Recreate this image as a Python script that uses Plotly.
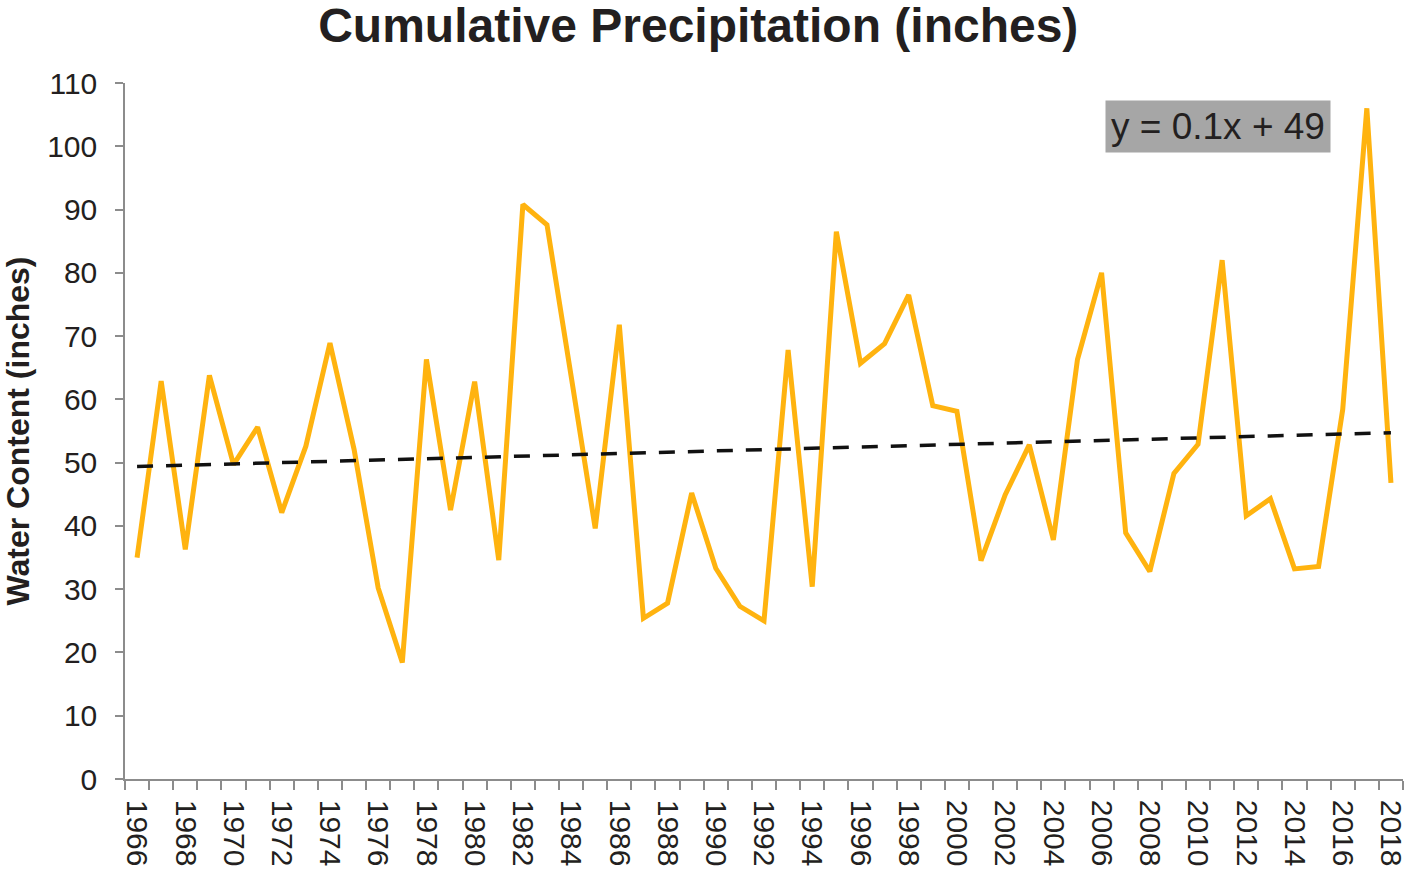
import numpy as np
import plotly.graph_objects as go

# Annual cumulative precipitation, 1966-2018 (inches)
years = list(range(1966, 2019))
precip = [
    35.0, 62.9, 36.3, 63.8, 49.7, 55.6, 42.1, 52.6, 68.9, 52.1,
    30.2, 18.4, 66.3, 42.5, 62.8, 34.6, 90.8, 87.6, 63.7, 39.6,
    71.8, 25.4, 27.8, 45.2, 33.3, 27.3, 25.0, 67.8, 30.4, 86.5,
    65.7, 68.8, 76.5, 59.0, 58.1, 34.5, 44.9, 52.8, 37.8, 66.3,
    80.0, 38.9, 32.8, 48.3, 52.9, 82.0, 41.6, 44.3, 33.2, 33.6,
    58.4, 106.0, 46.8,
]
label_years = years[::2]
y_ticks = list(range(0, 111, 10))

# Linear trend fitted on the series index (1..n), as a spreadsheet trendline does
idx = np.arange(1, len(precip) + 1)
slope, intercept = np.polyfit(idx, precip, 1)
trend = slope * idx + intercept
eq_text = f"y = {slope:.1f}x + {intercept:.0f}"

TEXT = "#231F20"
AXIS = "#8C8C8C"
FONT = "Liberation Sans, Arial, sans-serif"

fig = go.Figure()
fig.add_trace(go.Scatter(
    x=years, y=precip, mode="lines",
    line=dict(color="#FFB30F", width=5),
    showlegend=False, hoverinfo="x+y",
))
fig.add_trace(go.Scatter(
    x=years, y=trend, mode="lines",
    line=dict(color="#111111", width=3.5, dash="16px,13px"),
    showlegend=False, hoverinfo="skip",
))

fig.add_annotation(
    x=0.855, y=0.9375, xref="paper", yref="paper",
    xanchor="center", yanchor="middle",
    text=eq_text, showarrow=False,
    font=dict(family=FONT, size=37, color=TEXT),
    bgcolor="#A6A6A6", borderpad=5,
)

fig.update_layout(
    width=1405, height=871,
    margin=dict(l=125, r=2, t=83, b=92),
    paper_bgcolor="white", plot_bgcolor="white",
    font=dict(family=FONT, color=TEXT),
    title=dict(
        text="<b>Cumulative Precipitation (inches)</b>",
        x=0.497, xref="container", xanchor="center",
        y=1 - 25 / 871, yref="container", yanchor="middle",
        font=dict(family=FONT, size=48, color=TEXT),
    ),
    xaxis=dict(
        range=[1965.5, 2018.5], automargin=False,
        tickmode="array", tickvals=label_years,
        ticktext=[str(y) for y in label_years],
        tickangle=90, ticks="outside", ticklen=9, tickcolor="rgba(0,0,0,0)",
        ticklabelstandoff=4, ticklabeloverflow="allow",
        tickfont=dict(family=FONT, size=30, color=TEXT),
        minor=dict(
            tickmode="array",
            tickvals=[y - 0.5 for y in years] + [years[-1] + 0.5],
            ticks="outside", ticklen=9, tickcolor=AXIS, tickwidth=1.5,
        ),
        showline=True, linecolor=AXIS, linewidth=1.5,
        showgrid=False, zeroline=False,
    ),
    yaxis=dict(
        range=[0, 110],
        tickmode="array", tickvals=y_ticks,
        ticks="outside", ticklen=8, tickcolor=AXIS, tickwidth=1.5,
        ticklabelstandoff=12,
        tickfont=dict(family=FONT, size=30, color=TEXT),
        showline=True, linecolor=AXIS, linewidth=1.5,
        showgrid=False, zeroline=False,
        title=dict(
            text="<b>Water Content (inches)</b>",
            font=dict(family=FONT, size=32, color=TEXT),
            standoff=8,
        ),
    ),
)

fig.write_html("out.html")
